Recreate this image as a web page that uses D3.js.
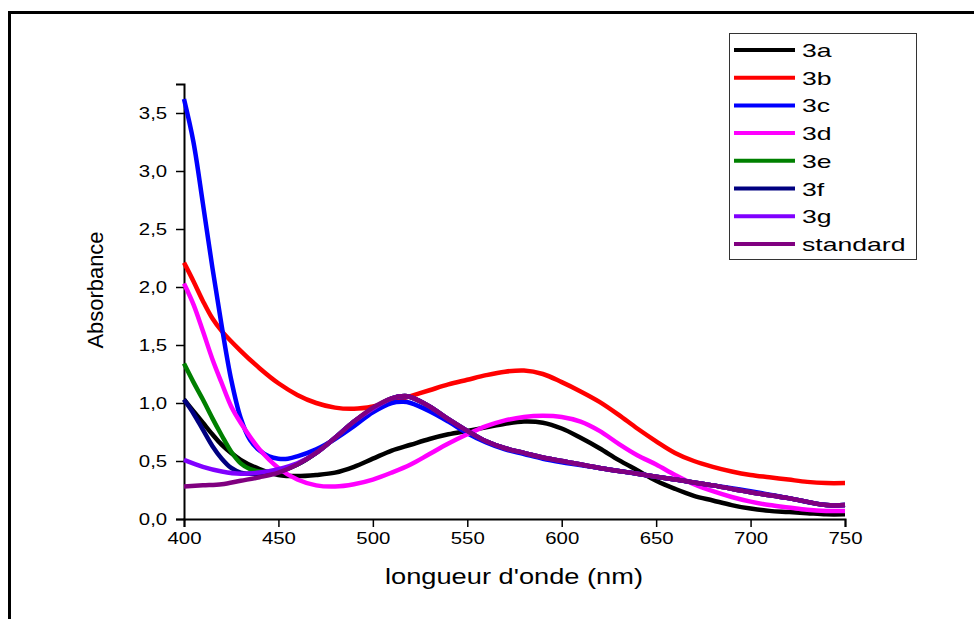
<!DOCTYPE html>
<html>
<head>
<meta charset="utf-8">
<script src="https://cdn.jsdelivr.net/npm/d3@7"></script>
<style>
  body { margin: 0; background: #fff; }
  text { font-family: "Liberation Sans", Arial, sans-serif; }
</style>
</head>
<body>
<div id="chart"></div>
<script>
// wavelengths (nm) and absorbance
var series_names = ["3a", "3b", "3c", "3d", "3e", "3f", "3g", "standard"];
var series_colors = ["#000000", "#ff0000", "#0000ff", "#ff00ff", "#008000", "#000080", "#8000ff", "#800080"];

var wl_3a = [400,405,410,415,420,430,440,450,460,470,480,490,500,510,520,530,540,550,560,570,580,590,600,610,620,630,640,650,660,670,680,690,700,710,720,730,740,750];
var abs_3a = [1.03,0.93,0.83,0.73,0.64,0.51,0.43,0.38,0.37,0.38,0.40,0.45,0.52,0.59,0.64,0.69,0.73,0.76,0.79,0.82,0.84,0.83,0.78,0.70,0.61,0.51,0.42,0.33,0.26,0.20,0.16,0.12,0.09,0.07,0.06,0.05,0.04,0.04];

var wl_3b = [400,405,410,415,420,430,440,450,460,470,480,490,500,510,520,530,540,550,560,570,580,590,600,610,620,630,640,650,660,670,680,690,700,710,720,730,740,750];
var abs_3b = [2.21,2.05,1.88,1.73,1.62,1.45,1.30,1.17,1.07,1.00,0.96,0.95,0.97,1.01,1.06,1.11,1.16,1.20,1.24,1.27,1.28,1.25,1.18,1.10,1.01,0.90,0.78,0.67,0.57,0.50,0.45,0.41,0.38,0.36,0.34,0.32,0.31,0.31];

var wl_3c = [400,405,410,415,420,425,430,435,440,445,450,455,460,470,480,490,500,510,516,520,530,540,550,560,570,580,590,600,620,640,660,680,700,720,740,750];
var abs_3c = [3.62,3.25,2.72,2.17,1.66,1.20,0.87,0.68,0.59,0.54,0.52,0.52,0.54,0.60,0.69,0.80,0.92,1.00,1.01,1.00,0.93,0.84,0.74,0.66,0.60,0.56,0.52,0.49,0.44,0.39,0.34,0.29,0.24,0.18,0.12,0.12];

var wl_3d = [400,405,410,415,420,425,430,440,450,460,470,480,490,500,510,520,530,540,550,560,570,580,590,600,610,620,630,640,650,660,670,680,690,700,710,720,730,740,750];
var abs_3d = [2.03,1.85,1.62,1.38,1.17,0.97,0.83,0.60,0.44,0.34,0.29,0.28,0.30,0.34,0.40,0.47,0.56,0.65,0.73,0.80,0.85,0.88,0.89,0.88,0.84,0.76,0.65,0.55,0.47,0.38,0.30,0.24,0.19,0.15,0.12,0.10,0.08,0.07,0.07];

var wl_3e = [400,405,410,415,420,425,430,435,440,450,460,470,480,490,500,510,517,520,530,540,550,560,570,580,590,600,620,640,660,680,700,720,740,750];
var abs_3e = [1.34,1.18,1.03,0.87,0.72,0.58,0.48,0.43,0.41,0.41,0.47,0.57,0.70,0.84,0.95,1.04,1.06,1.05,0.97,0.86,0.76,0.67,0.61,0.57,0.53,0.50,0.44,0.39,0.34,0.29,0.23,0.18,0.12,0.12];

var wl_3f = [400,405,410,415,420,425,430,440,450,460,470,480,490,500,510,517,520,530,540,550,560,570,580,590,600,620,640,660,680,700,720,740,750];
var abs_3f = [1.03,0.91,0.77,0.63,0.52,0.44,0.40,0.39,0.41,0.47,0.57,0.70,0.84,0.95,1.04,1.06,1.05,0.97,0.86,0.76,0.67,0.61,0.57,0.53,0.50,0.44,0.39,0.34,0.29,0.23,0.18,0.12,0.12];

var wl_3g = [400,410,420,430,440,450,460,470,480,490,500,510,517,520,530,540,550,560,570,580,590,600,620,640,660,680,700,720,740,750];
var abs_3g = [0.51,0.45,0.41,0.39,0.40,0.43,0.48,0.57,0.70,0.84,0.95,1.04,1.06,1.05,0.97,0.86,0.76,0.67,0.61,0.57,0.53,0.50,0.44,0.39,0.34,0.29,0.23,0.18,0.12,0.12];

var wl_std = [400,410,420,430,440,450,460,470,480,490,500,510,517,520,530,540,550,560,570,580,590,600,620,640,660,680,700,720,740,750];
var abs_std = [0.28,0.29,0.30,0.33,0.36,0.40,0.47,0.57,0.70,0.84,0.96,1.04,1.06,1.05,0.97,0.86,0.76,0.67,0.61,0.57,0.53,0.50,0.44,0.39,0.34,0.29,0.23,0.18,0.12,0.12];

var x_ticks = [400, 450, 500, 550, 600, 650, 700, 750];
var y_ticks = [0, 0.5, 1.0, 1.5, 2.0, 2.5, 3.0, 3.5];

var wls = [wl_3a, wl_3b, wl_3c, wl_3d, wl_3e, wl_3f, wl_3g, wl_std];
var abss = [abs_3a, abs_3b, abs_3c, abs_3d, abs_3e, abs_3f, abs_3g, abs_std];

var W = 974, H = 619;
var svg = d3.select("#chart").append("svg")
  .attr("width", W)
  .attr("height", H);

// outer frame (open at bottom and right, like the picture)
svg.append("path")
  .attr("d", "M9.5," + H + "V12.5H" + (W + 5))
  .attr("fill", "none")
  .attr("stroke", "#000")
  .attr("stroke-width", 3);

var x = d3.scaleLinear().domain([400, 750]).range([184, 845]);
var y = d3.scaleLinear().domain([0, 3.75]).range([519, 84]);

var fmt = d => d3.format(".1f")(d).replace(".", ",");

// minor ticks
var gx = svg.append("g").attr("transform", "translate(0,519)");
gx.call(d3.axisBottom(x).tickValues(d3.range(400, 751, 25)).tickSize(5).tickFormat(""));
gx.call(d3.axisBottom(x).tickValues(x_ticks).tickSize(8).tickPadding(5).tickFormat(d3.format("d")));
gx.select(".domain").attr("stroke-width", 2);
gx.selectAll("line").attr("stroke-width", 1.5);
gx.selectAll("text")
  .style("font-size", "17px")
  .attr("fill", "#000")
  .attr("transform", "scale(1.2,1)");

var gy = svg.append("g").attr("transform", "translate(184,0)");
gy.call(d3.axisLeft(y).tickValues(d3.range(0, 3.76, 0.25)).tickSize(5).tickFormat(""));
gy.call(d3.axisLeft(y).tickValues(y_ticks).tickSize(8).tickPadding(6).tickFormat(fmt));
gy.select(".domain").attr("stroke-width", 2);
gy.selectAll("line").attr("stroke-width", 1.5);
gy.selectAll("text")
  .style("font-size", "17px")
  .attr("fill", "#000")
  .attr("transform", "scale(1.2,1)");

// curves
var line = d3.line()
  .x(d => x(d[0]))
  .y(d => y(d[1]))
  .curve(d3.curveCatmullRom.alpha(0.5));

series_names.forEach((name, i) => {
  var pts = wls[i].map((w, j) => [w, abss[i][j]]);
  svg.append("path")
    .datum(pts)
    .attr("d", line)
    .attr("fill", "none")
    .attr("stroke", series_colors[i])
    .attr("stroke-width", 4.5)
    .attr("stroke-linejoin", "round");
});

// axis titles
svg.append("text")
  .attr("x", 514).attr("y", 584)
  .attr("text-anchor", "middle")
  .style("font-size", "22px")
  .attr("textLength", 258)
  .attr("lengthAdjust", "spacingAndGlyphs")
  .text("longueur d'onde (nm)");

svg.append("text")
  .attr("transform", "translate(103,290) rotate(-90)")
  .attr("text-anchor", "middle")
  .style("font-size", "22px")
  .attr("textLength", 117)
  .attr("lengthAdjust", "spacingAndGlyphs")
  .text("Absorbance");

// legend
var leg = svg.append("g");
leg.append("rect")
  .attr("x", 729.5).attr("y", 33.5)
  .attr("width", 187).attr("height", 226)
  .attr("fill", "#fff")
  .attr("stroke", "#333")
  .attr("stroke-width", 1);

series_names.forEach((name, i) => {
  var yy = 50 + i * 27.7;
  leg.append("line")
    .attr("x1", 734).attr("x2", 795)
    .attr("y1", yy).attr("y2", yy)
    .attr("stroke", series_colors[i])
    .attr("stroke-width", 4);
  leg.append("text")
    .attr("transform", "translate(802," + (yy + 7) + ") scale(1.4,1)")
    .style("font-size", "19px")
    .text(name);
});
</script>
</body>
</html>
